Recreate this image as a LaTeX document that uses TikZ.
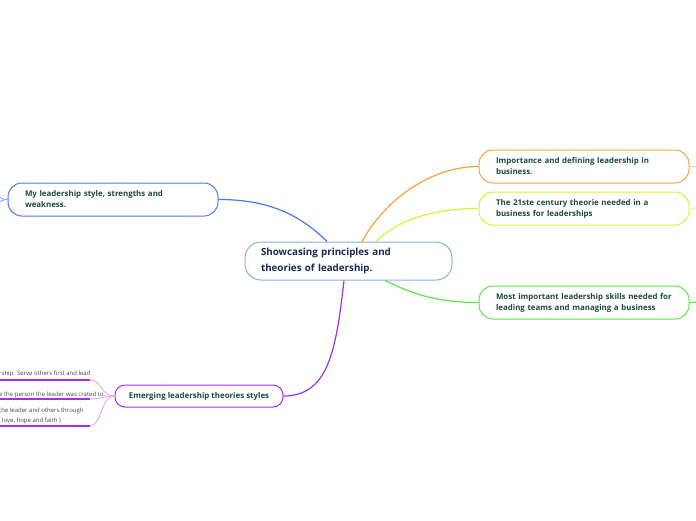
\documentclass[tikz,border=0pt]{standalone}
\usepackage{fontspec}
\setmainfont{Open Sans}

\definecolor{mainBorder}{HTML}{80B4E0}
\definecolor{mainText}{HTML}{1C2A52}
\definecolor{topicText}{HTML}{1E4A3A}
\definecolor{leafText}{HTML}{444444}
\definecolor{cOrange}{HTML}{F7A23C}
\definecolor{cYellow}{HTML}{D6F23A}
\definecolor{cGreen}{HTML}{5DE446}
\definecolor{cBlue}{HTML}{4A78F0}
\definecolor{cPurple}{HTML}{A32CEE}
\definecolor{cPurpleLight}{HTML}{D9A8FF}

\def \lineWidth {1.2pt}

\tikzset{
  topic/.style={draw=#1, line width=1pt, fill=white, rounded corners=14pt,
    minimum height=33pt, inner xsep=17pt, inner ysep=0pt, align=left,
    text=topicText, font=\bfseries\fontsize{7.9}{11}\selectfont},
  branch/.style={draw=#1, line width=\lineWidth},
  leaf/.style={inner sep=0pt, align=left, text=leafText,
    font=\fontsize{6}{9.5}\selectfont}
}

\begin{document}
\begin{tikzpicture}[x=1pt, y=-1pt]
  \useasboundingbox (0,0) rectangle (696,520);
  \clip (0,0) rectangle (696,520);

  % centre
  \node[draw=mainBorder, line width=1pt, fill=white, rounded corners=16pt,
        minimum width=207pt, minimum height=38pt, text width=175pt,
        inner xsep=16pt, inner ysep=0pt, align=left, text=mainText,
        font=\bfseries\fontsize{9.8}{16}\selectfont]
        (main) at (348.5,261) {Showcasing principles and\\theories of leadership.};

  % main topics
  \node[topic=cOrange, text width=176pt] (importance) at (584,166.5)
        {Importance and defining leadership in\\business.};
  \node[topic=cYellow, text width=176pt] (century) at (584,208.5)
        {The 21ste century theorie needed in a\\business for leaderships};
  \node[topic=cGreen, text width=176pt] (skills) at (584,302.5)
        {Most important leadership skills needed for\\leading teams and managing a business};
  \node[topic=cBlue, text width=176pt] (mystyle) at (113,199.5)
        {My leadership style, strengths and\\weakness.};
  \node[topic=cPurple, rounded corners=10pt, minimum width=168pt, minimum height=22pt,
        inner xsep=4pt, align=center] (emerging) at (199,396)
        {Emerging leadership theories styles};

  % branches from the centre
  \draw[branch=cBlue] ([xshift=-21.5pt]main.north) .. controls +(-30,-30) and +(45,0) .. (mystyle.east);
  \draw[branch=cOrange] ([xshift=13.5pt]main.north) .. controls +(25,-45) and +(-45,0) .. (importance.west);
  \draw[branch=cYellow] ([xshift=27.5pt]main.north) .. controls +(22,-22) and +(-45,0) .. (century.west);
  \draw[branch=cGreen] ([xshift=36.5pt]main.south) .. controls +(25,12) and +(-45,0) .. (skills.west);
  \draw[branch=cPurple] ([xshift=-4.5pt]main.south) .. controls +(-8,70) and +(45,0) .. (emerging.east);

  % stubs to the hidden sub topics
  \coordinate (orangeOut) at (700,167);
  \coordinate (yellowOut) at (700,208);
  \coordinate (greenOut) at (700,302);
  \coordinate (blueUp) at (-4,195);
  \coordinate (blueDown) at (-4,204);
  \draw[draw=cOrange!50, line width=1pt] (importance.east) -- (orangeOut);
  \draw[draw=cYellow!50, line width=1pt] (century.east) -- (yellowOut);
  \draw[branch=cGreen] (skills.east) -- (greenOut);
  \draw[draw=cBlue!70, line width=0.8pt] (mystyle.west) .. controls +(-4,0) .. (blueUp);
  \draw[draw=cBlue!70, line width=0.8pt] (mystyle.west) .. controls +(-4,0) .. (blueDown);

  % sub topics of the emerging styles
  \coordinate (servantEnd) at (90,380);
  \coordinate (servantOut) at (-5,380);
  \coordinate (purposeEnd) at (90,399);
  \coordinate (purposeOut) at (-5,399);
  \coordinate (faithEnd) at (90,426);
  \coordinate (faithOut) at (-5,426);

  \draw[draw=cPurpleLight, line width=0.9pt] (emerging.west) .. controls +(-14,0) and +(12,0) .. (servantEnd);
  \draw[draw=cPurpleLight, line width=0.9pt] (emerging.west) .. controls +(-12,0) and +(12,0) .. (purposeEnd);
  \draw[draw=cPurpleLight, line width=0.9pt] (emerging.west) .. controls +(-14,0) and +(12,0) .. (faithEnd);
  \draw[draw=cPurple, line width=1.6pt] (servantOut) -- (servantEnd);
  \draw[draw=cPurple, line width=1.6pt] (purposeOut) -- (purposeEnd);
  \draw[draw=cPurple, line width=1.6pt] (faithOut) -- (faithEnd);

  \node[leaf, anchor=base west] (servant) at (-1,375.5) {rship: Serve others first and lead};
  \node[leaf, anchor=base west] (purpose) at (-1,396) {e the person the leader was crated to.};
  \node[leaf, anchor=north west] (faith) at (-1,408)
        {the leader and others through\\\hspace*{3pt}love, hope and faith )};
\end{tikzpicture}
\end{document}
